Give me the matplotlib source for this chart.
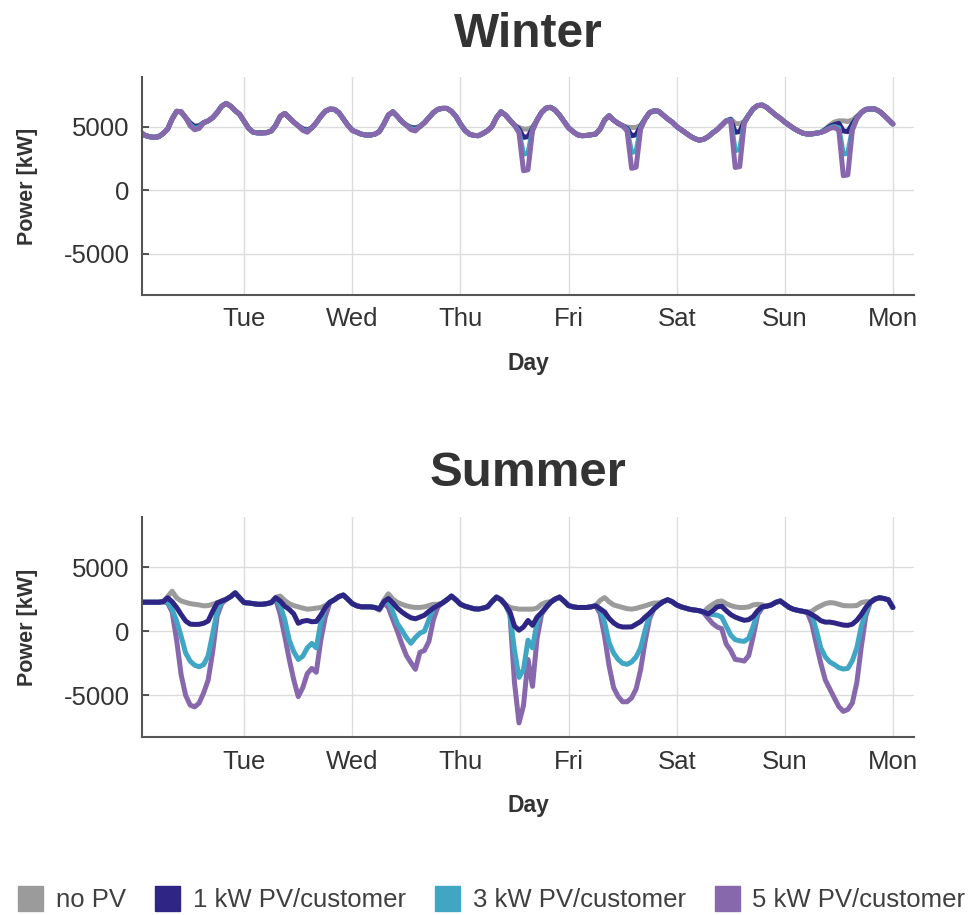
import matplotlib.pyplot as plt
from matplotlib.lines import Line2D
import numpy as np

plt.rcParams['font.family'] = ['Liberation Sans', 'DejaVu Sans']

# hourly samples, Mon 01:00 .. next Mon 00:00
hours = np.arange(1, 169)
day_ticks = [24, 48, 72, 96, 120, 144, 168]
day_labels = ["Tue", "Wed", "Thu", "Fri", "Sat", "Sun", "Mon"]

series_names = ["no PV", "1 kW PV/customer", "3 kW PV/customer", "5 kW PV/customer"]
colors = ["#9b9b9b", "#2e2585", "#40a6c4", "#8868ad"]

# ---- winter [kW] ----
winter_no_pv = [
    4540,4300,4200,4150,4200,4450,4800,5600,6200,6150,5700,5300,5050,5100,5300,5450,5700,6100,6600,6820,6600,6250,5950,5400,
    4850,4550,4500,4500,4520,4650,5100,5800,6030,5700,5350,5050,4850,4750,4900,5300,5800,6200,6370,6350,6100,5600,5100,4700,
    4550,4400,4330,4330,4400,4600,5200,5900,6160,5800,5400,5100,4950,4900,5000,5300,5700,6100,6350,6430,6430,6200,5800,5200,
    4700,4400,4300,4280,4450,4670,5000,5700,6160,5900,5500,5100,4930,4800,4800,4930,5500,6100,6450,6510,6300,5900,5400,4900,
    4600,4350,4280,4300,4350,4410,4800,5500,5850,5500,5250,5060,4950,4930,4930,5100,5600,6100,6240,6200,5900,5600,5350,5000,
    4750,4500,4250,4050,3930,4000,4200,4500,4750,5100,5450,5590,5250,5200,5400,5900,6400,6650,6690,6500,6200,5900,5650,5350,
    5100,4850,4650,4480,4410,4420,4480,4540,4800,5100,5350,5450,5450,5400,5500,5800,6100,6350,6380,6380,6200,5900,5550,5200]
winter_pv1 = [
    4540,4300,4200,4150,4200,4450,4800,5600,6200,6150,5700,5250,4980,5030,5300,5450,5700,6100,6600,6820,6600,6250,5950,5400,
    4850,4550,4500,4500,4520,4650,5100,5800,6030,5700,5350,5050,4800,4700,4900,5300,5800,6200,6370,6350,6100,5600,5100,4700,
    4550,4400,4330,4330,4400,4600,5200,5900,6160,5800,5400,5100,4920,4860,5000,5300,5700,6100,6350,6430,6430,6200,5800,5200,
    4700,4400,4300,4280,4450,4670,5000,5700,6160,5900,5500,5100,4800,4150,4200,4850,5500,6100,6450,6510,6300,5900,5400,4900,
    4600,4350,4280,4300,4350,4410,4800,5500,5850,5500,5250,5060,4850,4280,4350,5000,5600,6100,6240,6200,5900,5600,5350,5000,
    4750,4500,4250,4050,3930,4000,4200,4500,4750,5100,5450,5550,4550,4600,5350,5900,6400,6650,6690,6500,6200,5900,5650,5350,
    5100,4850,4650,4480,4410,4420,4480,4540,4750,5000,5150,5250,4650,4600,5200,5700,6100,6350,6380,6380,6200,5900,5550,5200]
winter_pv3 = [
    4540,4300,4200,4150,4200,4450,4800,5600,6200,6150,5700,5150,4850,4950,5300,5450,5700,6100,6600,6820,6600,6250,5950,5400,
    4850,4550,4500,4500,4520,4650,5100,5800,6030,5700,5350,5050,4750,4620,4900,5300,5800,6200,6370,6350,6100,5600,5100,4700,
    4550,4400,4330,4330,4400,4600,5200,5900,6160,5800,5400,5100,4850,4750,5000,5300,5700,6100,6350,6430,6430,6200,5800,5200,
    4700,4400,4300,4280,4450,4670,5000,5700,6160,5900,5500,5100,4600,2830,2900,4750,5500,6100,6450,6510,6300,5900,5400,4900,
    4600,4350,4280,4300,4350,4410,4800,5500,5850,5500,5250,5060,4750,2970,3050,4900,5600,6100,6240,6200,5900,5600,5350,5000,
    4750,4500,4250,4050,3930,4000,4200,4500,4750,5100,5450,5500,3100,3200,5300,5900,6400,6650,6690,6500,6200,5900,5650,5350,
    5100,4850,4650,4480,4410,4420,4480,4540,4700,4900,5000,4900,2830,2900,4800,5650,6100,6350,6380,6380,6200,5900,5550,5200]
winter_pv5 = [
    4540,4300,4200,4150,4200,4450,4800,5600,6200,6150,5700,5050,4750,4850,5300,5450,5700,6100,6600,6820,6600,6250,5950,5400,
    4850,4550,4500,4500,4520,4650,5100,5800,6030,5700,5350,5050,4700,4550,4900,5300,5800,6200,6370,6350,6100,5600,5100,4700,
    4550,4400,4330,4330,4400,4600,5200,5900,6160,5800,5400,5100,4750,4650,5000,5300,5700,6100,6350,6430,6430,6200,5800,5200,
    4700,4400,4300,4280,4450,4670,5000,5700,6160,5900,5500,5100,4500,1520,1600,4650,5500,6100,6450,6510,6300,5900,5400,4900,
    4600,4350,4280,4300,4350,4410,4800,5500,5850,5500,5250,5060,4650,1710,1800,4800,5600,6100,6240,6200,5900,5600,5350,5000,
    4750,4500,4250,4050,3930,4000,4200,4500,4750,5100,5450,5450,1780,1850,5250,5900,6400,6650,6690,6500,6200,5900,5650,5350,
    5100,4850,4650,4480,4410,4420,4480,4540,4650,4850,4930,4700,1130,1200,4700,5600,6100,6350,6380,6380,6200,5900,5550,5200]

# ---- summer [kW] ----
summer_no_pv = [
    2260,2260,2260,2260,2260,2300,2700,3120,2600,2360,2250,2150,2100,2050,1980,2000,2100,2230,2350,2490,2700,2990,2600,2230,
    2200,2150,2100,2100,2150,2230,2650,2740,2400,2150,2000,1900,1800,1720,1750,1800,1850,2000,2250,2450,2700,2820,2500,2150,
    1980,1900,1900,1900,1850,1730,2400,2920,2500,2250,2100,1980,1900,1850,1850,1900,2000,2100,2100,2200,2450,2740,2450,2100,
    1950,1850,1750,1730,1800,1900,2300,2660,2500,2100,1850,1780,1720,1720,1720,1720,1800,2100,2250,2300,2500,2660,2350,2000,
    1900,1850,1850,1850,1900,1980,2400,2620,2300,2050,1950,1850,1760,1720,1780,1880,1980,2100,2200,2200,2300,2450,2300,2050,
    1900,1800,1700,1650,1600,1500,1850,2100,2300,2360,2150,2000,1900,1850,1850,1900,2050,2100,2050,1980,2050,2250,2360,2100,
    1850,1700,1620,1550,1480,1550,1800,1980,2150,2230,2200,2100,2000,1980,1980,2000,2230,2300,2300,2500,2610,2550,2450,1850]
summer_pv1 = [
    2260,2260,2260,2260,2260,2300,2600,2300,1850,1300,800,550,530,540,620,800,1550,2200,2350,2490,2700,2990,2600,2230,
    2200,2150,2100,2100,2150,2230,2610,2350,1950,1700,1345,620,780,837,740,760,1250,1850,2250,2450,2700,2820,2500,2150,
    1980,1900,1900,1900,1850,1730,2300,2550,2200,1800,1500,1250,1050,970,1100,1250,1550,1800,2000,2200,2450,2740,2450,2100,
    1950,1850,1750,1730,1800,1900,2300,2660,2450,2050,1500,400,80,330,840,460,1090,1450,1850,2250,2500,2660,2350,2000,
    1900,1850,1850,1850,1900,1980,1750,1500,1000,650,420,330,330,340,550,750,1100,1400,1750,2050,2300,2450,2300,2050,
    1900,1800,1700,1650,1600,1500,1345,1600,1900,1950,1600,1300,1100,966,850,900,1150,1600,1900,1950,2050,2250,2360,2100,
    1850,1700,1620,1550,1480,1300,1090,820,710,710,650,560,480,457,550,850,1300,1850,2250,2500,2610,2550,2450,1850]
summer_pv3 = [
    2260,2260,2260,2260,2260,2300,2300,1700,800,-400,-1700,-2330,-2650,-2770,-2600,-1900,-200,1600,2300,2490,2700,2990,2600,2230,
    2200,2150,2100,2100,2150,2230,2600,2000,900,-700,-1600,-2200,-1950,-1300,-950,-1300,700,1850,2250,2450,2700,2820,2500,2150,
    1980,1900,1900,1900,1850,1730,2300,2300,1500,600,76,-500,-940,-500,-150,0,900,1800,2000,2200,2450,2740,2450,2100,
    1950,1850,1750,1730,1800,1900,2300,2660,2450,2050,1300,-1500,-3600,-3000,-700,-1300,700,1450,1850,2250,2500,2660,2350,2000,
    1900,1850,1850,1850,1900,1980,1700,700,-900,-1700,-2200,-2500,-2580,-2400,-2000,-1300,76,1300,1750,2050,2300,2450,2300,2050,
    1900,1800,1700,1650,1600,1500,1345,1300,1250,1100,400,-300,-660,-750,-790,-550,400,1500,1900,1950,2050,2250,2360,2100,
    1850,1700,1620,1550,1480,1300,100,-1300,-2000,-2400,-2600,-2840,-2950,-2900,-2300,-1300,400,1500,2250,2500,2610,2550,2450,1850]
summer_pv5 = [
    2260,2260,2260,2260,2260,2300,2200,1500,-700,-3400,-5000,-5760,-5900,-5600,-4800,-3800,-1600,1200,2150,2490,2700,2990,2600,2230,
    2200,2150,2100,2100,2150,2230,2500,1300,-400,-2200,-3800,-5100,-4400,-3300,-2900,-3200,-700,1100,2250,2450,2700,2820,2500,2150,
    1980,1900,1900,1900,1850,1650,2200,1850,900,0,-1000,-1900,-2450,-2970,-1650,-1500,-800,900,1900,2200,2450,2740,2450,2100,
    1950,1850,1750,1730,1800,1900,2300,2660,2450,2050,1300,-4000,-7150,-5800,-2200,-4300,-600,1300,1850,2250,2500,2660,2350,2000,
    1900,1850,1850,1850,1900,1980,1400,-400,-2700,-4400,-5080,-5500,-5500,-5200,-4500,-3000,-800,1000,1750,2050,2300,2450,2300,2050,
    1900,1800,1700,1650,1600,1450,1000,600,330,200,-1000,-1500,-2200,-2250,-2330,-1900,-400,1300,1850,1950,2050,2250,2360,2100,
    1850,1700,1620,1550,1480,600,-1000,-2500,-3800,-4500,-5200,-5880,-6250,-6100,-5600,-4000,-1200,1200,2250,2500,2610,2550,2450,1850]

text_col = "#333333"

fig = plt.figure(figsize=(9.73, 9.15), dpi=100)
ax_w = fig.add_axes([0.1459, 0.6776, 0.7935, 0.2383])
ax_s = fig.add_axes([0.1459, 0.1945, 0.7935, 0.2404])


def style_axes(ax):
    ax.set_xlim(1.3, 172.7)
    ax.set_ylim(-8250, 8900)
    ax.set_xticks(day_ticks)
    ax.set_xticklabels(day_labels)
    ax.set_yticks([-5000, 0, 5000])
    ax.set_yticklabels(["-5000", "0", "5000"])
    ax.grid(True, color="#dcdcdc", linewidth=1.0)
    ax.set_axisbelow(True)
    for s in ["top", "right"]:
        ax.spines[s].set_visible(False)
    for s in ["left", "bottom"]:
        ax.spines[s].set_color("#555555")
        ax.spines[s].set_linewidth(1.5)
    ax.tick_params(axis="x", length=0, pad=9, labelsize=18.5, labelcolor=text_col)
    ax.tick_params(axis="y", direction="in", length=5, width=1.2, color="#333333",
                   pad=9, labelsize=18.5, labelcolor=text_col)
    ax.set_ylabel("Power [kW]", fontsize=15.5, fontweight="bold", color=text_col)
    ax.yaxis.set_label_coords(-0.135, 0.5)
    ax.set_xlabel("Day", fontsize=16.5, fontweight="bold", color=text_col, va="top")
    ax.xaxis.set_label_coords(0.5, -0.26)


winter = [winter_no_pv, winter_pv1, winter_pv3, winter_pv5]
summer = [summer_no_pv, summer_pv1, summer_pv3, summer_pv5]

# winter: 5 kW drawn on top; summer: 1 kW drawn on top
for i in [0, 1, 2, 3]:
    ax_w.plot(hours, winter[i], color=colors[i], lw=3.6, solid_joinstyle="round",
              solid_capstyle="round")
for i in [0, 3, 2, 1]:
    ax_s.plot(hours, summer[i], color=colors[i], lw=3.6, solid_joinstyle="round",
              solid_capstyle="round")

style_axes(ax_w)
style_axes(ax_s)

fig.text(0.5427, 0.962, "Winter", ha="center", va="center", fontsize=34.5,
         fontweight="bold", color=text_col)
fig.text(0.5427, 0.483, "Summer", ha="center", va="center", fontsize=35.5,
         fontweight="bold", color=text_col)

handles = [Line2D([], [], marker="s", linestyle="", markersize=18, color=c) for c in colors]
fig.legend(handles, series_names, loc="center", bbox_to_anchor=(0.505, 1 - 900 / 915),
           ncol=4, frameon=False, fontsize=18.5, handlelength=1.0, handletextpad=0.5,
           columnspacing=1.1, labelcolor="#404040")

fig.savefig("out.png", dpi=100)
